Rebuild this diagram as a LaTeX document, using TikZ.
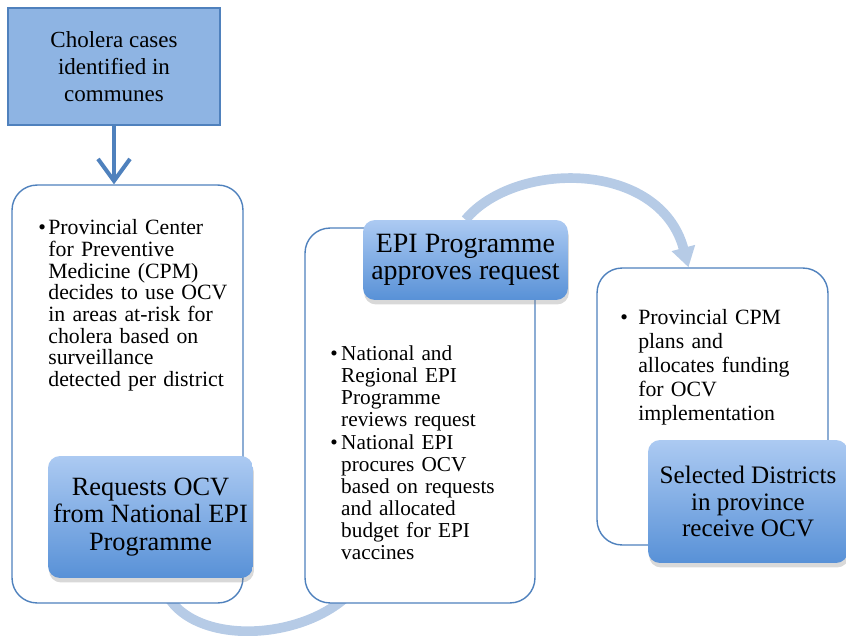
\documentclass[tikz,border=0pt]{standalone}
\usepackage{fontspec}
\setmainfont{Liberation Serif}
\usetikzlibrary{arrows.meta,shadows,calc,backgrounds}
\definecolor{boxline}{RGB}{79,129,189}
\definecolor{topfill}{RGB}{142,180,227}
\definecolor{nodetop}{RGB}{172,202,242}
\definecolor{nodebot}{RGB}{88,145,215}
\definecolor{arcblue}{RGB}{182,203,230}
\newcommand{\bitem}[1]{\par\noindent\leftskip=#1\llap{\makebox[#1][l]{\textbullet}}}
\begin{document}
\begin{tikzpicture}[x=0.02cm,y=-0.02cm,
  frame/.style={draw=boxline,fill=white,rounded corners=5mm,line width=0.8pt},
  stage/.style={rounded corners=2.4mm,top color=nodetop,bottom color=nodebot,
    drop shadow={shadow xshift=0.2mm,shadow yshift=-0.9mm,opacity=0.3},
    align=center,inner sep=0pt},
  bul/.style={anchor=north west,inner sep=0pt},
  flow/.style={line width=5.5pt,draw=arcblue}]
  \useasboundingbox (0,0) rectangle (846,636);
  % source box
  \node[draw=boxline,fill=topfill,line width=0.8pt,minimum width=4.24cm,minimum height=2.34cm,
    align=center,font=\fontsize{13.1pt}{15.3pt}\selectfont] (cases) at (114,66.5)
    {Cholera cases\\identified in\\communes};
  % the three stages
  \node[frame,minimum width=4.62cm,minimum height=8.36cm] (box1) at (127.5,394) {};
  \node[frame,minimum width=4.6cm,minimum height=7.5cm] (box2) at (420,415.5) {};
  \node[frame,minimum width=4.62cm,minimum height=5.54cm] (box3) at (712.5,406.5) {};
  \node[bul,text width=4.1cm,font=\fontsize{12.4pt}{12.3pt}\selectfont] (txt1) at (38,213)
    {\raggedright\bitem{5.7pt}Provincial Center\\for Preventive\\Medicine (CPM)\\decides to use OCV\\in areas at-risk for\\cholera based on\\surveillance\\detected per district\par};
  \node[bul,text width=4.1cm,font=\fontsize{12.1pt}{12.6pt}\selectfont] (txt2) at (330,338)
    {\raggedright\bitem{6.2pt}National and\\Regional EPI\\Programme\\reviews request\bitem{6.2pt}National EPI\\procures OCV\\based on requests\\and allocated\\budget for EPI\\vaccines\par};
  \node[bul,text width=4.1cm,font=\fontsize{12.4pt}{13.7pt}\selectfont] (txt3) at (620,300)
    {\raggedright\bitem{10.2pt}Provincial CPM\\plans and\\allocates funding\\for OCV\\implementation\par};
  \node[stage,minimum width=4.1cm,minimum height=2.44cm,font=\fontsize{15pt}{15.5pt}\selectfont] (req) at (150.5,517)
    {Requests OCV\\from National EPI\\Programme};
  \node[stage,minimum width=4.1cm,minimum height=1.6cm,font=\fontsize{15.9pt}{15pt}\selectfont] (epi) at (465.5,260)
    {EPI Programme\\approves request};
  \node[stage,minimum width=4cm,minimum height=2.46cm,font=\fontsize{14.3pt}{15.1pt}\selectfont] (sel) at (748,501.5)
    {Selected Districts\\in province\\receive OCV};
  % connectors
  \draw[boxline,line width=2.3pt,-{Straight Barb[length=4.4mm,width=6.4mm]}]
    (cases.south) -- (cases.south |- box1.north);
  \begin{scope}[on background layer]
    \draw[flow] ($(req.south)+(10,0)$) .. controls (175,645) and (290,645) .. ($(box2.south west)+(40,-5)$);
    \draw[flow,-{Triangle[length=4mm,width=4.6mm]}] (epi.north) .. controls (515,160) and (660,160) .. ($(box3.north)+(-24,0)$);
  \end{scope}
\end{tikzpicture}
\end{document}
